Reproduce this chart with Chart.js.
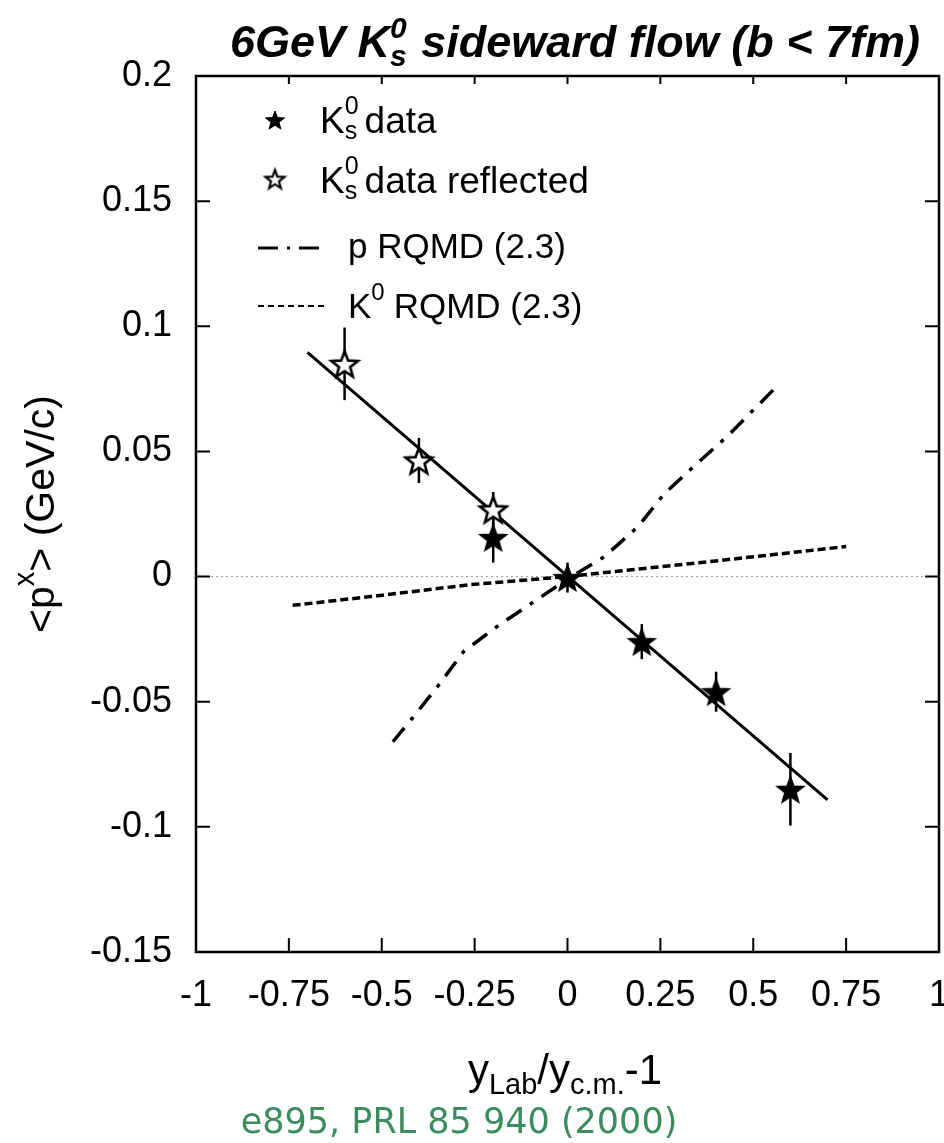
<!DOCTYPE html>
<html>
<head>
<meta charset="utf-8">
<script src="https://cdn.jsdelivr.net/npm/chart.js@4.4.1/dist/chart.umd.min.js"></script>
<style>
html,body{margin:0;padding:0;background:#fff;}
canvas{display:block;}
</style>
</head>
<body>
<canvas id="flowChart" width="944" height="1143"></canvas>
<script>
// ===== DATA =====
const dataX = [-0.2, 0, 0.2, 0.4, 0.6];
const dataY = [0.0156, -0.0004, -0.026, -0.046, -0.085];
const dataErr = [0.010, 0.006, 0.007, 0.008, 0.0145];

const reflX = [-0.6, -0.4, -0.2];
const reflY = [0.085, 0.0464, 0.0268];
const reflErr = [0.0145, 0.009, 0.007];

const fitX = [-0.7, 0.7];
const fitY = [0.0896, -0.0892];

const pRqmdX = [-0.47, -0.42, -0.35, -0.28, -0.19, -0.09, 0, 0.1, 0.19, 0.26, 0.34, 0.43, 0.51, 0.57];
const pRqmdY = [-0.066, -0.057, -0.044, -0.030, -0.020, -0.010, -0.001, 0.008, 0.020, 0.033, 0.044, 0.056, 0.068, 0.077];

const k0RqmdX = [-0.74, -0.53, -0.26, 0, 0.1, 0.36, 0.75];
const k0RqmdY = [-0.0115, -0.008, -0.0032, 0.0, 0.0016, 0.0056, 0.012];

const zeroX = [-1, 1];
const zeroY = [0, 0];

const xTickLabels = ["-1", "-0.75", "-0.5", "-0.25", "0", "0.25", "0.5", "0.75", "1"];
const yTickLabels = ["-0.15", "-0.1", "-0.05", "0", "0.05", "0.1", "0.15", "0.2"];

const FONT = "'Liberation Sans', Arial, sans-serif";

// ===== HELPERS =====
function pts(xs, ys){
    return xs.map((x, i) => ({x: x, y: ys[i]}));
}

function makeStar(r, fill, lw){
    let c = document.createElement("canvas");
    let s = Math.ceil(r * 2 + lw * 2 + 2);
    c.width = s; c.height = s;
    let ctx = c.getContext("2d");
    ctx.translate(s / 2, s / 2 + r * 0.1);
    ctx.beginPath();
    for(let i = 0; i < 10; i++){
        let rad = i % 2 === 0 ? r : r * 0.42;
        let a = -Math.PI / 2 + i * Math.PI / 5;
        ctx.lineTo(rad * Math.cos(a), rad * Math.sin(a));
    }
    ctx.closePath();
    ctx.fillStyle = fill;
    ctx.fill();
    ctx.lineWidth = lw;
    ctx.lineJoin = "miter";
    ctx.strokeStyle = "#000";
    ctx.stroke();
    return c;
}

// rich text: parts are {t} or {sup, sub, up, down}, each with a font
function richText(ctx, parts, x, y, measureOnly){
    let cx = x;
    ctx.textAlign = "left";
    ctx.textBaseline = "alphabetic";
    parts.forEach(p => {
        ctx.font = p.font;
        if(p.t === undefined){
            let w1 = 0, w2 = 0;
            if(p.sup){
                w1 = ctx.measureText(p.sup).width;
                if(!measureOnly) ctx.fillText(p.sup, cx, y - p.up);
            }
            if(p.sub){
                w2 = ctx.measureText(p.sub).width;
                if(!measureOnly) ctx.fillText(p.sub, cx, y + p.down);
            }
            cx += Math.max(w1, w2) + (p.gap || 0);
        }else{
            if(!measureOnly) ctx.fillText(p.t, cx, y);
            cx += ctx.measureText(p.t).width;
        }
    });
    return cx - x;
}

const starBig = makeStar(14, "#000", 1.5);
const starBigOpen = makeStar(14, "#fff", 2.6);
const starSmall = makeStar(10, "#000", 1);
const starSmallOpen = makeStar(10, "#fff", 2.2);

// ===== DECORATIONS PLUGIN =====
const decor = {
    id: "decor",
    beforeDatasetsDraw(chart){
        let ctx = chart.ctx;
        let xs = chart.scales.x, ys = chart.scales.y;
        ctx.save();
        ctx.strokeStyle = "#000";
        ctx.lineWidth = 2.5;
        let bars = (xArr, yArr, eArr) => {
            xArr.forEach((x, i) => {
                let px = xs.getPixelForValue(x);
                ctx.beginPath();
                ctx.moveTo(px, ys.getPixelForValue(yArr[i] + eArr[i]));
                ctx.lineTo(px, ys.getPixelForValue(yArr[i] - eArr[i]));
                ctx.stroke();
            });
        };
        bars(dataX, dataY, dataErr);
        bars(reflX, reflY, reflErr);
        ctx.restore();
    },
    afterDraw(chart){
        let ctx = chart.ctx;
        let a = chart.chartArea;
        let xs = chart.scales.x, ys = chart.scales.y;
        ctx.save();

        // frame + inner ticks
        ctx.strokeStyle = "#000";
        ctx.lineWidth = 2.5;
        ctx.strokeRect(a.left, a.top, a.right - a.left, a.bottom - a.top);
        ctx.lineWidth = 2;
        ctx.beginPath();
        xs.ticks.forEach(t => {
            let px = xs.getPixelForValue(t.value);
            ctx.moveTo(px, a.bottom); ctx.lineTo(px, a.bottom - 14);
            ctx.moveTo(px, a.top); ctx.lineTo(px, a.top + 8);
        });
        ys.ticks.forEach(t => {
            let py = ys.getPixelForValue(t.value);
            ctx.moveTo(a.left, py); ctx.lineTo(a.left + 14, py);
            ctx.moveTo(a.right, py); ctx.lineTo(a.right - 14, py);
        });
        ctx.stroke();

        ctx.fillStyle = "#000";

        // title
        let tf = "italic bold 45px " + FONT;
        let tfs = "italic bold 30px " + FONT;
        let title = [
            {t: "6GeV K", font: tf},
            {sup: "0", sub: "s", up: 19, down: 9, font: tfs, gap: 2},
            {t: " sideward flow (b < 7fm)", font: tf}
        ];
        let tw = richText(ctx, title, 0, 0, true);
        richText(ctx, title, 575 - tw / 2, 57, false);

        // legend
        let lf = "37px " + FONT;
        let lfs = "25px " + FONT;
        ctx.drawImage(starSmall, 275 - starSmall.width / 2, 120 - starSmall.height / 2);
        richText(ctx, [
            {t: "K", font: lf},
            {sup: "0", sub: "s", up: 19, down: 6, font: lfs, gap: 6},
            {t: "data", font: lf}
        ], 320, 133);
        ctx.drawImage(starSmallOpen, 275 - starSmallOpen.width / 2, 179 - starSmallOpen.height / 2);
        richText(ctx, [
            {t: "K", font: lf},
            {sup: "0", sub: "s", up: 19, down: 6, font: lfs, gap: 6},
            {t: "data reflected", font: lf}
        ], 320, 193);

        ctx.lineWidth = 3;
        ctx.setLineDash([20, 9, 3, 9]);
        ctx.beginPath(); ctx.moveTo(258, 248); ctx.lineTo(324, 248); ctx.stroke();
        ctx.setLineDash([6, 4]);
        ctx.lineWidth = 2;
        ctx.beginPath(); ctx.moveTo(258, 306); ctx.lineTo(324, 306); ctx.stroke();
        ctx.setLineDash([]);

        let rf = "35px " + FONT;
        richText(ctx, [{t: "p RQMD (2.3)", font: rf}], 348, 258);
        richText(ctx, [
            {t: "K", font: rf},
            {sup: "0", up: 18, font: "24px " + FONT, gap: 9},
            {t: "RQMD (2.3)", font: rf}
        ], 348, 318);

        // axis titles
        let af = "42px " + FONT;
        let afs = "29px " + FONT;
        let xl = [
            {t: "y", font: af},
            {sub: "Lab", down: 10, font: afs},
            {t: "/y", font: af},
            {sub: "c.m.", down: 10, font: afs},
            {t: "-1", font: af}
        ];
        let xw = richText(ctx, xl, 0, 0, true);
        richText(ctx, xl, 565 - xw / 2, 1084);

        let yl = [
            {t: "<p", font: "41px " + FONT},
            {sup: "x", up: 20, font: afs},
            {t: "> (GeV/c)", font: "41px " + FONT}
        ];
        let yw = richText(ctx, yl, 0, 0, true);
        ctx.save();
        ctx.translate(54, 514);
        ctx.rotate(-Math.PI / 2);
        richText(ctx, yl, -yw / 2, 0);
        ctx.restore();

        // reference note
        ctx.fillStyle = "#3b8c5e";
        ctx.font = "35px 'DejaVu Sans', sans-serif";
        ctx.textAlign = "center";
        ctx.fillText("e895, PRL 85 940 (2000)", 459, 1133);

        ctx.restore();
    }
};

// ===== CHART =====
new Chart(document.getElementById("flowChart"), {
    type: "scatter",
    data: {
        datasets: [
            {
                label: "Ks0 data",
                data: pts(dataX, dataY),
                pointStyle: starBig,
                pointRadius: 1
            },
            {
                label: "Ks0 data reflected",
                data: pts(reflX, reflY),
                pointStyle: starBigOpen,
                pointRadius: 1
            },
            {
                label: "fit",
                data: pts(fitX, fitY),
                showLine: true,
                borderColor: "#000",
                borderWidth: 3,
                pointRadius: 0
            },
            {
                label: "p RQMD (2.3)",
                data: pts(pRqmdX, pRqmdY),
                showLine: true,
                borderColor: "#000",
                borderWidth: 3.5,
                borderDash: [18, 10, 4, 10],
                pointRadius: 0
            },
            {
                label: "K0 RQMD (2.3)",
                data: pts(k0RqmdX, k0RqmdY),
                showLine: true,
                borderColor: "#000",
                borderWidth: 3.5,
                borderDash: [8, 4],
                pointRadius: 0
            },
            {
                label: "zero",
                data: pts(zeroX, zeroY),
                showLine: true,
                borderColor: "#9a9a9a",
                borderWidth: 1,
                borderDash: [2, 3],
                pointRadius: 0
            }
        ]
    },
    options: {
        responsive: false,
        animation: false,
        events: [],
        layout: {padding: {left: 0, top: 76, right: 4, bottom: 0}},
        plugins: {
            legend: {display: false},
            tooltip: {enabled: false}
        },
        scales: {
            x: {
                type: "linear",
                min: -1, max: 1,
                grid: {display: false, drawTicks: false},
                border: {display: false},
                ticks: {
                    stepSize: 0.25,
                    padding: 22,
                    color: "#000",
                    font: {family: FONT, size: 36},
                    maxRotation: 0,
                    autoSkip: false,
                    callback: (v) => xTickLabels[Math.round((v + 1) / 0.25)]
                },
                afterFit: (s) => { s.height = 191; s.paddingLeft = 0; s.paddingRight = 0; }
            },
            y: {
                type: "linear",
                min: -0.15, max: 0.2,
                grid: {display: false, drawTicks: false},
                border: {display: false},
                ticks: {
                    stepSize: 0.05,
                    padding: 24,
                    color: "#000",
                    font: {family: FONT, size: 36},
                    autoSkip: false,
                    callback: (v) => yTickLabels[Math.round((v + 0.15) / 0.05)]
                },
                afterFit: (s) => { s.width = 196; s.paddingTop = 0; s.paddingBottom = 0; }
            }
        }
    },
    plugins: [decor]
});
</script>
</body>
</html>
